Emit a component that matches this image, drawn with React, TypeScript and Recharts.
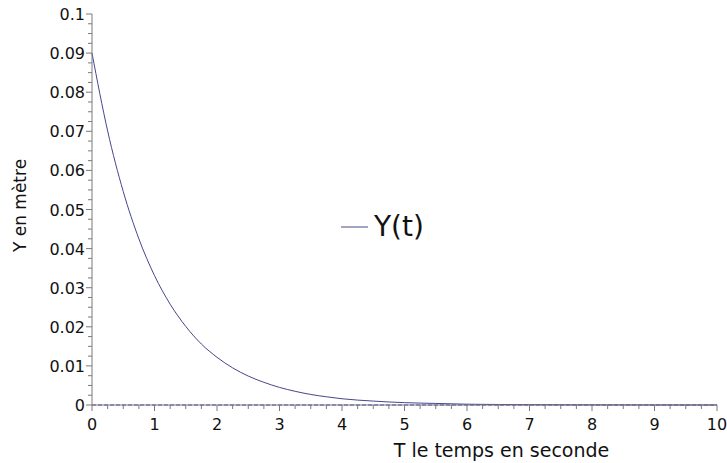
import React from 'react';
import {
  LineChart,
  Line,
  XAxis,
  YAxis,
  Legend,
  ReferenceLine,
} from 'recharts';

// time in seconds and Y(t) in metres
const tValues = [
  0, 0.25, 0.5, 0.75, 1, 1.25, 1.5, 1.75, 2, 2.25, 2.5, 2.75, 3, 3.25, 3.5, 3.75,
  4, 4.5, 5, 5.5, 6, 6.5, 7, 8, 9, 10,
];
const yValues = [
  0.09, 0.0701, 0.0546, 0.0425, 0.0331, 0.0258, 0.0201, 0.0156, 0.0122, 0.0095,
  0.0074, 0.0058, 0.0045, 0.0035, 0.0027, 0.0021, 0.0016, 0.001, 0.0006, 0.0004,
  0.0002, 0.00013, 0.00008, 0.00003, 0.00001, 0,
];

const xMajorTicks = [0, 1, 2, 3, 4, 5, 6, 7, 8, 9, 10];
const yMajorTicks = [0, 0.01, 0.02, 0.03, 0.04, 0.05, 0.06, 0.07, 0.08, 0.09, 0.1];

const data = tValues.map((t, i) => ({ t, y: yValues[i] }));

// 4 sub-divisions between major ticks
const withMinor = (major: number[]) =>
  major.flatMap((v, i) =>
    i === major.length - 1
      ? [v]
      : [0, 1, 2, 3].map((k) => v + ((major[i + 1] - v) * k) / 4),
  );
const xTicks = withMinor(xMajorTicks);
const yTicks = withMinor(yMajorTicks);

const isMajor = (v: number, list: number[]) =>
  list.some((m) => Math.abs(m - v) < 1e-9);

const FONT = 'DejaVu Sans, Verdana, sans-serif';
const AXIS = '#7a7a7a';

const XTick = (props: any) => {
  const { x, y, payload } = props;
  const major = isMajor(payload.value, xMajorTicks);
  return (
    <g>
      <line x1={x} y1={y} x2={x} y2={y + (major ? 6 : 4)} stroke={AXIS} />
      {major && (
        <text x={x} y={y + 25} textAnchor="middle" fontSize={16} fill="#111" fontFamily={FONT}>
          {payload.value}
        </text>
      )}
    </g>
  );
};

const YTick = (props: any) => {
  const { x, y, payload } = props;
  const major = isMajor(payload.value, yMajorTicks);
  return (
    <g>
      <line x1={x} y1={y} x2={x - (major ? 6 : 4)} y2={y} stroke={AXIS} />
      {major && (
        <text x={x - 7} y={y + 6} textAnchor="end" fontSize={16} fill="#111" fontFamily={FONT}>
          {Number(payload.value.toFixed(2)).toString()}
        </text>
      )}
    </g>
  );
};

const LegendBox = () => (
  <div style={{ display: 'flex', alignItems: 'center', fontFamily: FONT }}>
    <svg width={34} height={10}>
      <line x1={1} y1={5} x2={28} y2={5} stroke="#46468c" strokeWidth={1} />
    </svg>
    <span style={{ fontSize: 28, color: '#111', lineHeight: '32px' }}>Y(t)</span>
  </div>
);

export default function App() {
  return (
    <div style={{ position: 'absolute', left: 0, top: 0, background: '#fff' }}>
      <LineChart
        width={727}
        height={463}
        data={data}
        margin={{ top: 14, right: 10, left: 10, bottom: 0 }}
      >
        <XAxis
          dataKey="t"
          type="number"
          domain={[0, 10]}
          ticks={xTicks}
          interval={0}
          tick={<XTick />}
          tickLine={false}
          tickSize={0}
          tickMargin={0}
          stroke={AXIS}
          height={58}
          label={{
            value: 'T le temps en seconde',
            position: 'center',
            dx: 97,
            dy: 16,
            fontSize: 19,
            fill: '#111',
            fontFamily: FONT,
          }}
        />
        <YAxis
          type="number"
          domain={[0, 0.1]}
          ticks={yTicks}
          interval={0}
          tick={<YTick />}
          tickLine={false}
          tickSize={0}
          tickMargin={0}
          stroke={AXIS}
          width={82}
          label={{
            value: 'Y en mètre',
            position: 'center',
            angle: -90,
            dx: -31,
            dy: -4,
            fontSize: 17,
            fill: '#111',
            fontFamily: FONT,
          }}
        />
        <ReferenceLine y={0} stroke="#3434c8" strokeDasharray="4 2" />
        <Legend
          layout="vertical"
          align="center"
          verticalAlign="middle"
          content={<LegendBox />}
          wrapperStyle={{ left: 340, top: 211, width: 110 }}
        />
        <Line
          type="monotone"
          dataKey="y"
          stroke="#46468c"
          strokeWidth={1}
          dot={false}
          isAnimationActive={false}
        />
      </LineChart>
    </div>
  );
}
